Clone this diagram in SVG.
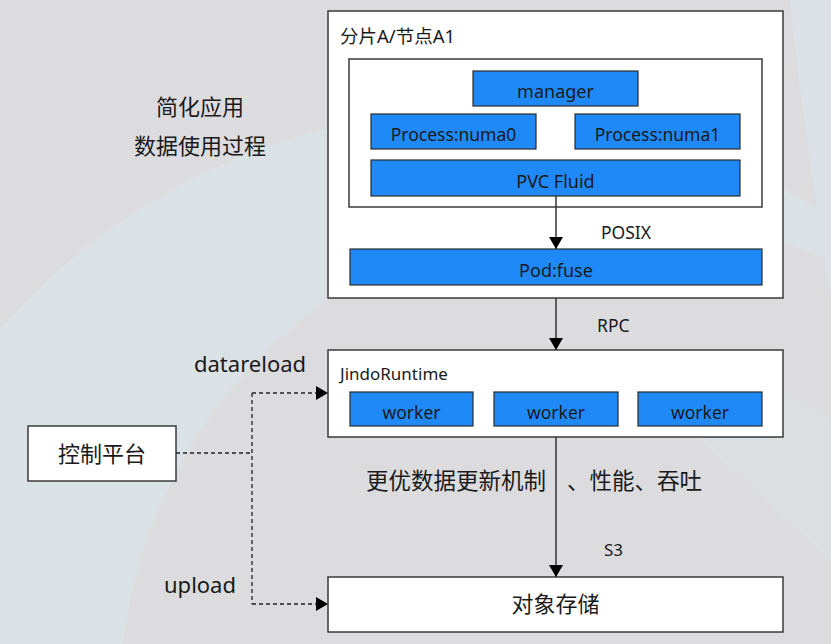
<svg xmlns="http://www.w3.org/2000/svg" width="831" height="644" viewBox="0 0 831 644">
<defs>
<marker id="ah" viewBox="0 0 12 14" refX="12" refY="7" markerWidth="12" markerHeight="14" markerUnits="userSpaceOnUse" orient="auto">
<path d="M0,0 L12,7 L0,14 Z" fill="#000"/>
</marker>
<clipPath id="c"><rect width="831" height="644"/></clipPath>
</defs>
<style>
.box{fill:#fff;stroke:#3a3a3a;stroke-width:1.5}
.blue{fill:#1f8af7;stroke:#2b2b2b;stroke-width:1.2}
.t{font-family:"Noto Sans","Noto Sans CJK SC",sans-serif;fill:#1a1a1a}
.c{text-anchor:middle}
.line{stroke:#333;stroke-width:1.5;fill:none}
.dash{stroke:#222;stroke-width:1.3;fill:none;stroke-dasharray:4,3}
</style>
<g clip-path="url(#c)">
<rect width="831" height="644" fill="#dcdcdf"/>
<circle cx="478" cy="740" r="630" fill="#dbe2e5"/>
<circle cx="610" cy="700" r="490" fill="#dcdcdf"/>
<path d="M790,0 L831,0 L831,300 C815,200 800,100 790,0 Z" fill="#dbe1e6"/>
<path d="M700,440 L831,560 L831,420 L760,380 Z" fill="#dbe1e5" opacity="0.6"/>
</g>

<g id="labels">
<text class="t c" x="200" y="115" font-size="22">简化应用</text>
<text class="t c" x="200" y="154" font-size="22">数据使用过程</text>
</g>

<g id="shardA1">
<rect class="box" x="328" y="11" width="455" height="287"/>
<text class="t" x="340" y="43" font-size="18.5">分片A/节点A1</text>
<rect class="box" x="349" y="59" width="413" height="148"/>
</g>
<g id="manager">
<rect class="blue" x="473" y="71" width="165" height="35"/>
<text class="t c" x="555.5" y="98" font-size="18">manager</text>
</g>
<g id="numa0">
<rect class="blue" x="371" y="114" width="165" height="35"/>
<text class="t c" x="453.5" y="141" font-size="17.5">Process:numa0</text>
</g>
<g id="numa1">
<rect class="blue" x="575" y="114" width="165" height="35"/>
<text class="t c" x="657.5" y="141" font-size="17.5">Process:numa1</text>
</g>
<g id="pvc">
<rect class="blue" x="371" y="160" width="369" height="36"/>
<text class="t c" x="555.5" y="188" font-size="18">PVC Fluid</text>
</g>
<g id="podfuse">
<rect class="blue" x="350" y="249" width="412" height="36"/>
<text class="t c" x="556" y="277" font-size="18">Pod:fuse</text>
</g>

<g id="jindo">
<rect class="box" x="328" y="350" width="455" height="87"/>
<text class="t" x="340" y="380" font-size="17">JindoRuntime</text>
</g>
<g id="worker1">
<rect class="blue" x="350" y="392" width="123" height="34"/>
<text class="t c" x="411.5" y="419" font-size="17.5">worker</text>
</g>
<g id="worker2">
<rect class="blue" x="494" y="392" width="124" height="34"/>
<text class="t c" x="556" y="419" font-size="17.5">worker</text>
</g>
<g id="worker3">
<rect class="blue" x="638" y="392" width="124" height="34"/>
<text class="t c" x="700" y="419" font-size="17.5">worker</text>
</g>

<g id="storage">
<rect class="box" x="328" y="577" width="455" height="55"/>
<text class="t c" x="555.5" y="612" font-size="22">对象存储</text>
</g>

<g id="control">
<rect class="box" x="28" y="426" width="148" height="55"/>
<text class="t c" x="102" y="462" font-size="22">控制平台</text>
</g>

<g id="connectors">
<line class="line" x1="556" y1="196" x2="556" y2="249" marker-end="url(#ah)"/>
<line class="line" x1="556" y1="298" x2="556" y2="350" marker-end="url(#ah)"/>
<line class="line" x1="556" y1="437" x2="556" y2="577" marker-end="url(#ah)"/>
<path class="dash" d="M176,453 H252"/>
<path class="dash" d="M252,393 V604"/>
<path class="dash" d="M252,393 H328" marker-end="url(#ah)"/>
<path class="dash" d="M252,604 H328" marker-end="url(#ah)"/>
<text class="t" x="601" y="239" font-size="17.5">POSIX</text>
<text class="t" x="597" y="332" font-size="17.5">RPC</text>
<text class="t" x="604" y="556" font-size="17">S3</text>
<text class="t" x="194" y="372" font-size="22">datareload</text>
<text class="t" x="164" y="593" font-size="22">upload</text>
<text class="t" x="366" y="489" font-size="22.5">更优数据更新机制</text>
<text class="t" x="567" y="489" font-size="22.5">、性能、吞吐</text>
</g>
</svg>
